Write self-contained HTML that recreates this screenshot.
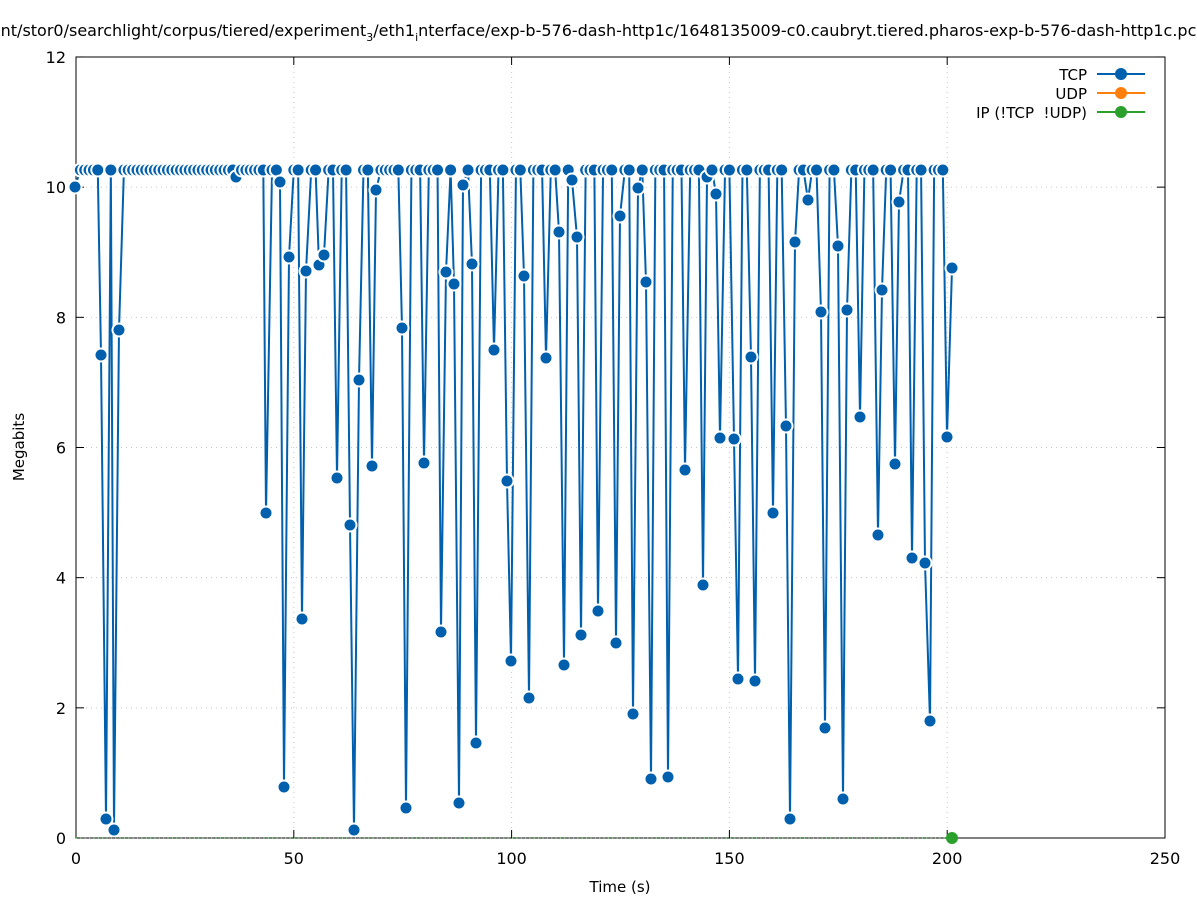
<!DOCTYPE html>
<html><head><meta charset="utf-8"><style>
html,body{margin:0;padding:0;background:#fff;width:1197px;height:900px;overflow:hidden}
svg{font-family:"DejaVu Sans","Liberation Sans",sans-serif}
</style></head><body>
<svg id="s" width="1197" height="900" xmlns="http://www.w3.org/2000/svg">
<rect width="1197" height="900" fill="#fff"/>
<g id="grid" stroke="#c8c8c8" stroke-width="1" stroke-dasharray="1,4"></g>
<rect x="76" y="57" width="1089" height="781" fill="none" stroke="#000" stroke-width="1"/>
<g id="ticks" stroke="#000" stroke-width="1"></g>
<g id="labels" font-size="16" fill="#000"></g>
<text x="598" y="36" font-size="16" text-anchor="middle">/mnt/stor0/searchlight/corpus/tiered/experiment<tspan font-size="11" dy="5">3</tspan><tspan dy="-5">/eth1</tspan><tspan font-size="11" dy="5">i</tspan><tspan dy="-5">nterface/exp-b-576-dash-http1c/1648135009-c0.caubryt.tiered.pharos-exp-b-576-dash-http1c.pcap</tspan></text>
<text x="24" y="447" font-size="15" text-anchor="middle" transform="rotate(-90 24 447)">Megabits</text>
<text x="620" y="892" font-size="15" text-anchor="middle">Time (s)</text>
<g id="data"></g>
<g font-size="15" text-anchor="end">
<text x="1087" y="80">TCP</text>
<line x1="1097" y1="74" x2="1145" y2="74" stroke="#0060ad" stroke-width="2"/><circle cx="1121" cy="74" r="6" fill="#0060ad"/>
<text x="1087" y="99">UDP</text>
<line x1="1097" y1="93" x2="1145" y2="93" stroke="#ff7f0e" stroke-width="2"/><circle cx="1121" cy="93" r="6" fill="#ff7f0e"/>
<text x="1087" y="118">IP (!TCP&#160;&#160;!UDP)</text>
<line x1="1097" y1="112" x2="1145" y2="112" stroke="#2ca02c" stroke-width="2"/><circle cx="1121" cy="112" r="6" fill="#2ca02c"/>
</g>
</svg>
<script>
var NS="http://www.w3.org/2000/svg";
function el(p,t,a){var e=document.createElementNS(NS,t);for(var k in a)e.setAttribute(k,a[k]);p.appendChild(e);return e;}
var g=document.getElementById('grid'),tk=document.getElementById('ticks'),lb=document.getElementById('labels');
for(var i=0;i<=5;i++){var x=76+i*217.8;if(i>0&&i<5)el(g,'line',{x1:x,y1:57,x2:x,y2:838});
el(tk,'line',{x1:x,y1:838,x2:x,y2:830});el(tk,'line',{x1:x,y1:57,x2:x,y2:65});
var t=el(lb,'text',{x:x,y:864,'text-anchor':'middle'});t.textContent=i*50;}
for(var j=0;j<=6;j++){var y=838-j*130.17;if(j>0&&j<6)el(g,'line',{x1:76,y1:y,x2:1165,y2:y});
el(tk,'line',{x1:76,y1:y,x2:84,y2:y});el(tk,'line',{x1:1165,y1:y,x2:1157,y2:y});
var t2=el(lb,'text',{x:66,y:y+6,'text-anchor':'end'});t2.textContent=j*2;}
var dips=[[101,355],[106,819],[114,830],[119,330],[236,177],[266,513],[280,182],[284,787],[289,257],[302,619],[306,271],[319,265],[324,255],[337,478],[350,525],[354,830],[359,380],[372,466],[376,190],[402,328],[406,808],[424,463],[441,632],[446,272],[454,284],[459,803],[463,185],[472,264],[476,743],[494,350],[507,481],[511,661],[524,276],[529,698],[546,358],[559,232],[564,665],[572,180],[577,237],[581,635],[598,611],[616,643],[620,216],[633,714],[638,188],[646,282],[651,779],[668,777],[685,470],[703,585],[707,177],[716,194],[720,438],[734,439],[738,679],[751,357],[755,681],[773,513],[786,426],[790,819],[795,242],[808,200],[821,312],[825,728],[838,246],[843,799],[847,310],[860,417],[878,535],[882,290],[895,464],[899,202],[912,558],[925,563],[930,721],[947,437]];
var pts=[[75,187]];
for(var t=1;t<=200;t++){var x=76+4.356*t,found=null;
for(var k=0;k<dips.length;k++){if(Math.abs(dips[k][0]-x)<2.2){found=dips[k];break;}}
if(found)pts.push(found);else if(x<950)pts.push([x,170]);}
pts.sort(function(a,b){return a[0]-b[0];});
pts.push([952,268]);
var d=document.getElementById('data');
el(d,'line',{x1:76,y1:838,x2:952,y2:838,stroke:'#2ca02c','stroke-width':1,'stroke-dasharray':'1,3.36'});
el(d,'polyline',{points:pts.map(function(p){return p.join(',')}).join(' '),fill:'none',stroke:'#0060ad','stroke-width':2,'stroke-linejoin':'miter'});
pts.forEach(function(p){el(d,'circle',{cx:p[0],cy:p[1],r:6.5,fill:'#0060ad',stroke:'#fff','stroke-width':2});});
el(d,'circle',{cx:952,cy:838,r:6,fill:'#2ca02c'});
</script>
</body></html>
